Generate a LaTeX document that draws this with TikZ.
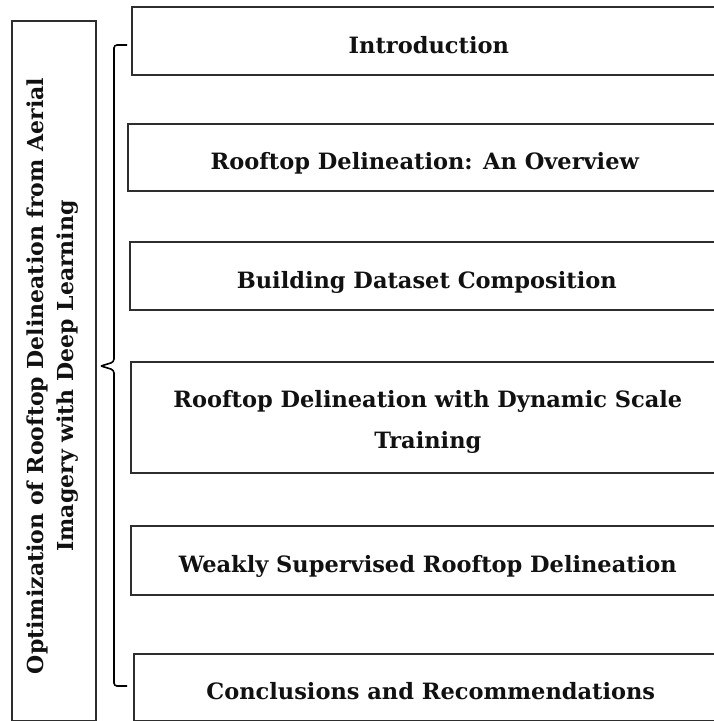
\documentclass[tikz,border=0pt]{standalone}
\usepackage{fontspec}
\setmainfont{DejaVu Serif}
\usetikzlibrary{positioning}
\definecolor{borde}{HTML}{2E2E2E}
\definecolor{texto}{HTML}{111111}

\begin{document}
\begin{tikzpicture}[x=1pt, y=-1pt, font=\fontsize{22.5}{41}\selectfont\bfseries,
		caja/.style={draw=borde, line width=1.6pt, anchor=north west, minimum width=594pt, text=texto, align=center, inner sep=0pt},
		linea/.style={text height=24.5pt, text depth=0pt},
		llave/.style={draw=black, line width=1.6pt, rounded corners=3pt}]
				\useasboundingbox (0,0) rectangle (714,721);
				\node[draw=borde, line width=1.6pt, anchor=north west, minimum width=84pt, minimum height=700pt] (tema) at (11,20) {};
				\node[rotate=90, align=center, text=texto, font=\fontsize{22}{30}\selectfont\bfseries] (titulo) at (53,376)
					{Optimization of Rooftop Delineation from Aerial\\Imagery with Deep Learning};
				\node[caja, linea, minimum height=68pt] (intro) at (131,6) {Introduction};
				\node[caja, linea, minimum height=67pt] (overview) at (127,123) {Rooftop Delineation: An Overview};
				\node[caja, linea, minimum height=68pt] (dataset) at (129,241) {Building Dataset Composition};
				\node[caja, minimum height=111pt] (escala) at (130,361) {};
				\node[align=center, text=texto] (escalatexto) at ([yshift=-5pt]escala.center)
					{Rooftop Delineation with Dynamic Scale\\Training};
				\node[caja, linea, minimum height=69pt] (debil) at (130,525) {Weakly Supervised Rooftop Delineation};
				\node[caja, linea, minimum height=67pt] (conclusion) at (133,653) {Conclusions and Recommendations};
				\coordinate (arriba) at (127,45);
				\coordinate (punta) at (101,366);
				\coordinate (abajo) at (127,686);
				\draw[llave] (arriba) -- (114,45) -- (114,362) -- (punta);
				\draw[llave] (punta) -- (114,370) -- (114,686) -- (abajo);
			\end{tikzpicture}
\end{document}
